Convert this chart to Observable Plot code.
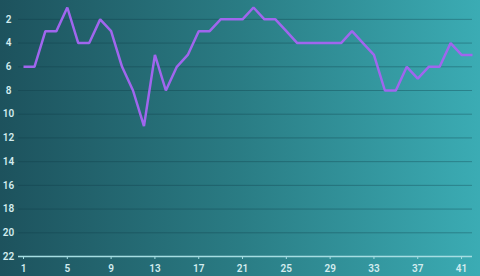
<!DOCTYPE html>
<html>
<head>
<meta charset="utf-8">
<script src="https://cdn.jsdelivr.net/npm/d3@7"></script>
<script src="https://cdn.jsdelivr.net/npm/@observablehq/plot@0.6"></script>
<style>
  html, body { margin: 0; padding: 0; background: #2a7c84; }
  #chart svg { display: block; }
</style>
</head>
<body>
<div id="chart"></div>
<script>
const xValues = [1,2,3,4,5,6,7,8,9,10,11,12,13,14,15,16,17,18,19,20,21,22,23,24,25,26,27,28,29,30,31,32,33,34,35,36,37,38,39,40,41,42];
const yValues = [6,6,3,3,1,4,4,2,3,6,8,11,5,8,6,5,3,3,2,2,2,1,2,2,3,4,4,4,4,4,3,4,5,8,8,6,7,6,6,4,5,5];
const xTicks = [1,5,9,13,17,21,25,29,33,37,41];
const yTicks = [2,4,6,8,10,12,14,16,18,20,22];

const data = xValues.map((x, i) => ({x, y: yValues[i]}));

const chart = Plot.plot({
  width: 480,
  height: 276,
  marginLeft: 23,
  marginRight: 8,
  marginTop: 7,
  marginBottom: 20,
  style: {
    background: "linear-gradient(to right, #1d525d 0%, #2a7c84 50%, #3bacb4 100%)",
    color: "#d3ecef",
    fontFamily: "Roboto, sans-serif",
    fontSize: "10px",
    fontWeight: "600"
  },
  x: {domain: [1, 42]},
  y: {domain: [1, 22], reverse: true},
  marks: [
    Plot.gridY(yTicks, {stroke: "#0d3a44", strokeOpacity: 0.35, insetLeft: -5}),
    Plot.ruleY([22], {stroke: "#a6dde2", strokeWidth: 1.5, insetLeft: -5}),
    Plot.axisX(xTicks, {tickSize: 3, tickPadding: 5, stroke: "#a6dde2", fill: "#d3ecef", label: null}),
    Plot.axisY(yTicks, {tickSize: 0, tickPadding: 15, textAnchor: "middle", fill: "#d3ecef", label: null}),
    Plot.line(data, {x: "x", y: "y", stroke: "#a066ee", strokeWidth: 2.5, strokeLinejoin: "miter", strokeLinecap: "butt"})
  ]
});
document.getElementById("chart").append(chart);
</script>
</body>
</html>
